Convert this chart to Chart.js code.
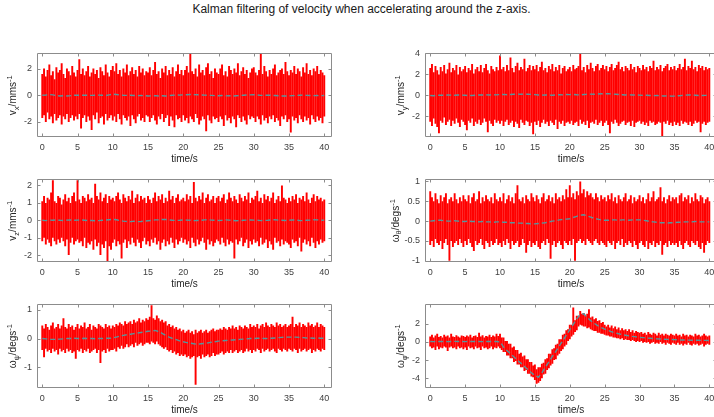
<!DOCTYPE html>
<html>
<head>
<meta charset="utf-8">
<script src="https://cdn.jsdelivr.net/npm/chart.js@4.4.1/dist/chart.umd.min.js"></script>
<style>
  html, body { margin: 0; padding: 0; background: #fff; width: 714px; height: 417px; overflow: hidden; position: relative;
    font-family: "Liberation Sans", Arial, sans-serif; }
  #title { position: absolute; top: 2px; left: 0; width: 723px; text-align: center; font-size: 12px; line-height: 14px; color: #1a1a1a; }
  canvas { position: absolute; }
</style>
</head>
<body>
<div id="title">Kalman filtering of velocity when accelerating around the z-axis.</div>
<canvas id="pVx"></canvas>
<canvas id="pVy"></canvas>
<canvas id="pVz"></canvas>
<canvas id="pWtheta"></canvas>
<canvas id="pWpsi"></canvas>
<canvas id="pWphi"></canvas>
<script>
// ---- measured signals: per 0.25 s bin, highest and lowest sample (0 .. 40 s) ----
const rawStep = 0.25;

const vxHi = [
  1.6,2.0,1.4,1.9,2.3,1.5,1.8,1.2,2.1,1.7,1.9,2.4,1.6,1.3,2.0,1.8,1.5,2.2,1.7,1.4,
  1.9,2.7,1.6,2.0,1.5,1.8,2.2,1.4,1.7,2.0,1.6,1.9,1.3,2.1,1.8,1.5,2.3,1.7,1.4,1.9,
  2.2,1.8,2.4,1.6,1.9,1.4,2.0,1.7,2.3,1.5,1.8,2.1,1.6,1.9,1.4,2.2,1.7,2.0,1.5,1.8,
  1.7,2.1,1.5,1.9,2.5,1.6,1.8,1.3,2.0,1.7,2.2,1.5,1.9,1.6,2.1,1.4,1.8,2.3,1.6,1.9,
  1.5,1.9,2.2,1.7,3.1,1.8,1.6,2.0,1.4,2.3,1.7,1.9,1.5,2.1,2.4,1.6,1.8,1.3,2.0,1.7,
  1.6,2.0,2.3,1.5,1.8,1.4,2.2,1.9,1.6,2.0,1.7,2.4,1.5,1.8,2.1,1.6,1.9,1.3,1.7,2.0,
  2.1,1.7,1.5,1.9,3.1,1.6,2.2,1.8,1.4,1.9,1.6,2.0,2.3,1.5,1.7,1.9,2.0,1.6,2.5,1.8,
  1.5,1.9,1.7,2.2,1.6,2.0,1.8,1.4,2.1,1.7,2.4,1.6,1.9,1.5,2.0,1.8,2.2,1.6,1.9,1.7,
  1.5];
const vxLo = [
  -1.7,-1.5,-2.0,-1.3,-1.8,-1.6,-2.1,-1.4,-1.9,-1.7,-1.5,-2.2,-1.6,-1.8,-1.4,-2.0,-1.7,-1.5,-1.9,-1.6,
  -1.8,-1.4,-2.5,-1.7,-1.5,-2.0,-1.6,-1.9,-2.6,-1.5,-1.8,-1.3,-2.1,-1.7,-1.6,-2.2,-1.4,-1.9,-1.7,-1.5,
  -1.9,-1.6,-2.0,-1.4,-1.8,-2.2,-1.5,-1.7,-1.9,-1.6,-2.3,-1.5,-1.8,-2.1,-1.6,-1.4,-1.9,-1.7,-2.0,-1.5,
  -1.6,-2.0,-1.7,-1.5,-1.9,-2.2,-1.6,-1.8,-1.4,-2.0,-1.7,-1.5,-2.3,-1.6,-1.9,-2.4,-1.5,-1.8,-1.7,-2.0,
  -1.5,-1.9,-1.7,-2.1,-1.6,-1.8,-2.0,-1.4,-1.7,-2.2,-1.9,-1.6,-1.8,-2.7,-1.5,-1.9,-2.1,-1.6,-1.8,-1.7,
  -2.0,-1.6,-1.8,-2.3,-1.5,-1.9,-1.7,-2.1,-1.6,-1.8,-2.4,-1.5,-1.7,-2.0,-1.6,-1.9,-2.2,-1.5,-1.8,-1.6,
  -1.7,-2.0,-1.6,-1.8,-2.2,-1.5,-1.9,-1.7,-2.1,-1.6,-1.8,-1.5,-2.0,-1.7,-1.9,-2.3,-1.6,-1.8,-1.5,-2.0,
  -1.8,-2.8,-1.6,-1.9,-1.7,-2.1,-1.5,-1.8,-2.0,-1.6,-1.9,-1.7,-2.2,-1.5,-1.8,-2.0,-1.6,-1.9,-1.7,-2.1,
  -1.6];

const vyHi = [
  2.6,3.0,2.2,2.8,2.4,2.0,2.7,2.3,2.9,2.1,2.5,3.1,2.2,2.6,2.4,2.9,2.0,2.7,2.3,2.5,
  2.8,2.2,2.6,2.4,3.0,2.1,2.5,2.7,2.3,2.9,2.2,2.6,3.0,2.4,2.1,2.8,2.5,2.3,2.7,2.4,
  3.8,2.5,2.7,2.3,2.9,2.4,3.6,2.6,2.2,2.8,3.1,2.4,2.7,2.5,3.5,2.3,2.6,2.9,2.4,2.8,
  2.5,2.9,2.3,2.7,3.2,2.4,2.6,2.2,2.8,2.5,3.0,2.3,2.7,2.4,2.9,2.1,2.6,2.8,2.3,2.5,
  2.7,2.3,2.9,2.5,2.6,2.8,4.0,2.4,2.7,2.2,2.9,2.5,3.1,2.6,2.3,2.8,3.0,2.4,2.6,2.9,
  2.5,2.8,2.3,2.7,3.0,2.4,2.6,2.9,3.2,2.5,2.7,2.3,2.8,2.6,2.4,3.0,2.5,2.7,2.2,2.8,
  2.6,2.4,2.9,2.5,2.7,2.3,2.8,2.6,3.3,2.4,2.7,2.5,2.9,2.3,2.6,2.8,3.0,2.4,2.7,2.5,
  2.8,2.4,2.6,3.0,2.5,2.7,3.5,2.4,2.8,2.6,3.3,2.5,2.7,2.3,2.9,2.6,2.8,2.4,2.7,2.5,
  2.6];
const vyLo = [
  -2.5,-2.9,-2.2,-2.7,-3.0,-3.6,-2.4,-2.6,-2.1,-2.8,-2.5,-2.3,-2.9,-2.4,-2.7,-2.2,-2.6,-3.0,-2.3,-2.5,
  -2.8,-3.3,-2.4,-2.6,-2.2,-2.9,-2.5,-2.7,-2.3,-2.8,-2.6,-2.2,-2.5,-3.5,-2.4,-2.7,-2.9,-2.3,-2.6,-2.4,
  -2.7,-2.4,-2.9,-2.5,-2.3,-2.8,-2.6,-2.4,-3.0,-2.5,-2.7,-3.1,-2.3,-2.6,-2.8,-2.4,-2.5,-2.9,-2.6,-3.7,
  -2.5,-2.8,-2.4,-3.0,-2.6,-2.3,-2.7,-2.5,-2.9,-2.4,-2.6,-2.8,-2.3,-3.2,-2.5,-2.7,-2.4,-2.9,-2.6,-2.5,
  -2.7,-2.4,-2.8,-2.6,-2.5,-2.9,-2.3,-2.7,-2.5,-2.8,-2.4,-3.1,-2.6,-2.5,-2.7,-2.3,-2.8,-2.6,-2.4,-2.9,
  -2.6,-2.4,-2.8,-3.6,-2.5,-2.7,-2.3,-2.6,-2.9,-2.7,-2.5,-2.4,-2.8,-2.6,-2.5,-2.9,-2.4,-3.0,-2.6,-2.5,
  -2.4,-2.7,-2.5,-2.8,-2.6,-2.9,-2.4,-2.6,-2.5,-2.8,-2.7,-2.5,-2.6,-3.9,-2.5,-2.7,-2.4,-2.8,-2.6,-2.9,
  -2.5,-2.8,-2.6,-2.9,-2.4,-2.7,-2.5,-2.6,-2.8,-2.5,-2.9,-2.7,-2.4,-2.6,-2.5,-3.5,-2.7,-2.5,-2.8,-2.6,
  -2.5];

const vzHi = [
  1.1,1.4,1.0,1.3,1.2,1.6,2.3,1.1,1.0,1.4,1.3,0.9,1.2,1.5,1.1,1.3,1.0,1.4,1.6,1.1,
  2.3,1.2,1.0,1.4,1.3,1.1,1.5,1.2,1.3,1.0,2.1,1.4,1.2,1.6,1.1,1.3,1.5,1.0,1.4,1.2,
  1.3,1.1,1.4,1.6,1.2,1.0,1.5,1.3,1.1,1.4,1.2,1.7,1.0,1.3,1.5,1.1,1.4,1.2,1.3,1.0,
  1.4,1.2,1.0,1.3,1.6,1.1,1.4,1.2,1.5,1.0,1.3,1.1,1.7,1.2,1.4,1.0,1.3,1.5,1.1,1.2,
  1.3,1.1,1.5,1.2,1.4,1.0,2.2,1.3,1.1,1.4,1.2,1.6,1.0,1.3,1.5,1.1,1.2,1.4,1.0,1.3,
  1.4,1.1,1.3,1.5,1.0,1.2,1.6,1.3,1.1,1.4,1.2,1.0,1.5,1.3,1.1,1.4,1.2,1.6,1.0,1.3,
  1.2,1.4,1.7,1.1,1.3,1.0,1.5,1.2,1.4,1.1,1.3,1.6,1.0,1.2,1.4,1.1,2.0,1.3,1.2,1.0,
  1.3,1.1,1.4,1.2,1.5,1.0,1.3,1.2,1.4,1.1,1.6,1.2,1.0,1.3,1.5,1.1,1.4,1.2,1.3,1.1,
  1.2];
const vzLo = [
  -1.2,-1.0,-1.4,-1.1,-1.3,-1.5,-1.0,-1.2,-1.4,-1.1,-1.3,-1.0,-1.2,-1.5,-1.1,-2.0,-1.3,-1.0,-1.4,-1.2,
  -1.1,-1.3,-1.2,-1.5,-1.0,-1.6,-1.3,-1.4,-1.2,-1.7,-1.1,-1.5,-1.3,-2.0,-1.4,-1.6,-1.2,-2.4,-1.5,-1.7,
  -1.3,-1.1,-1.5,-1.2,-1.4,-2.2,-1.3,-1.1,-1.6,-1.2,-1.4,-1.0,-1.3,-1.5,-1.1,-1.3,-1.6,-1.2,-1.0,-1.4,
  -1.2,-1.5,-1.1,-1.3,-1.0,-1.4,-1.2,-1.7,-1.3,-1.1,-1.5,-1.2,-1.4,-1.0,-1.3,-1.6,-1.1,-1.4,-1.2,-1.0,
  -1.3,-1.1,-1.4,-1.2,-1.6,-1.0,-1.3,-1.5,-1.1,-1.4,-1.2,-1.0,-1.3,-1.7,-1.1,-1.4,-1.2,-1.5,-1.3,-1.1,
  -1.2,-1.4,-1.0,-1.3,-1.5,-1.1,-1.4,-1.2,-1.3,-2.2,-1.1,-1.4,-1.2,-1.0,-1.5,-1.3,-1.1,-1.6,-1.2,-1.4,
  -1.1,-1.3,-1.2,-1.5,-1.0,-1.4,-1.3,-1.1,-1.6,-1.2,-1.4,-1.7,-1.0,-1.3,-1.2,-1.5,-1.1,-1.4,-1.2,-1.3,
  -1.4,-1.6,-1.1,-1.3,-1.2,-1.5,-1.0,-1.8,-1.3,-1.1,-1.4,-1.2,-1.5,-1.0,-1.3,-1.6,-1.2,-1.4,-1.1,-1.3,
  -1.2];

const wThetaHi = [
  0.75,0.6,0.5,0.7,0.55,0.45,0.65,0.5,0.6,0.7,0.45,0.55,0.6,0.5,0.7,0.55,0.45,0.6,0.5,0.65,
  0.55,0.5,0.65,0.45,0.6,0.7,0.5,0.55,0.75,0.45,0.6,0.5,0.65,0.55,0.5,0.6,0.45,0.7,0.55,0.5,
  0.6,0.5,0.7,0.45,0.55,0.65,0.5,0.6,0.45,0.7,0.9,0.55,0.5,0.6,0.45,0.65,0.55,0.5,0.7,0.6,
  0.5,0.65,0.55,0.45,0.6,0.7,0.5,0.55,0.65,0.5,0.6,0.45,0.7,0.55,0.6,0.5,0.65,0.55,0.8,0.6,
  0.9,0.6,0.7,0.55,0.75,0.65,1.0,0.7,0.8,0.6,0.75,0.65,0.7,0.6,0.55,0.7,0.6,0.5,0.65,0.55,
  0.6,0.5,0.65,0.55,0.7,0.5,0.6,0.45,0.65,0.55,0.5,0.6,0.7,0.5,0.55,0.65,0.45,0.6,0.5,0.55,
  0.65,0.5,0.6,0.45,0.55,0.7,0.5,0.6,0.75,0.5,0.55,0.6,0.85,0.5,0.6,0.45,0.55,0.65,0.5,0.6,
  0.55,0.6,0.45,0.65,0.7,0.5,0.6,0.55,0.65,0.45,0.6,0.5,0.7,0.55,0.5,0.65,0.6,0.45,0.55,0.6,
  0.5];
const wThetaLo = [
  -0.6,-0.5,-0.65,-0.45,-0.55,-0.6,-0.5,-0.7,-0.55,-0.45,-0.6,-1.0,-0.5,-0.65,-0.55,-0.5,-0.6,-0.45,-0.55,-0.65,
  -0.5,-0.6,-0.45,-0.55,-0.65,-0.75,-0.5,-0.6,-0.55,-0.45,-0.6,-0.7,-0.5,-0.55,-0.65,-0.5,-0.6,-0.55,-0.45,-0.6,
  -0.55,-0.65,-0.5,-0.6,-0.45,-0.55,-0.7,-0.5,-0.6,-0.55,-0.5,-0.65,-0.6,-0.45,-0.55,-0.8,-0.6,-0.5,-0.65,-0.55,
  -0.6,-0.5,-0.65,-0.7,-0.55,-0.5,-0.6,-0.45,-0.55,-0.95,-0.6,-0.5,-0.65,-0.55,-0.5,-0.6,-0.7,-0.5,-0.55,-0.6,
  -0.5,-0.6,-0.45,-1.0,-0.55,-0.5,-0.45,-0.55,-0.5,-0.6,-0.45,-0.5,-0.55,-0.6,-0.5,-0.45,-0.55,-0.6,-0.5,-0.55,
  -0.6,-0.65,-0.5,-0.55,-0.6,-0.5,-0.7,-0.55,-0.5,-0.6,-0.45,-0.65,-0.55,-0.6,-0.5,-0.55,-0.65,-0.5,-0.6,-0.7,
  -0.55,-0.5,-0.6,-0.65,-0.5,-0.7,-0.55,-0.6,-0.5,-0.65,-0.55,-0.6,-0.5,-0.85,-0.6,-0.55,-0.65,-0.5,-0.6,-0.55,
  -0.6,-0.55,-0.65,-0.5,-0.6,-0.7,-0.55,-0.5,-0.6,-0.65,-0.5,-0.55,-0.6,-0.5,-0.65,-0.7,-0.55,-0.8,-0.6,-0.5,
  -0.55];

const wPsiHi = [
  0.45,0.35,0.5,0.4,0.3,0.45,0.55,0.35,0.4,0.5,0.35,0.45,0.7,0.4,0.35,0.5,0.4,0.45,0.3,0.4,
  0.5,0.35,0.45,0.4,0.55,0.35,0.4,0.5,0.3,0.45,0.4,0.35,0.5,0.45,0.4,0.35,0.5,0.4,0.45,0.35,
  0.45,0.4,0.5,0.45,0.55,0.5,0.45,0.6,0.5,0.55,0.6,0.5,0.65,0.55,0.6,0.7,0.55,0.65,0.6,0.7,
  0.65,0.75,1.15,0.7,0.65,0.8,0.7,0.6,0.65,0.55,0.6,0.45,0.5,0.4,0.45,0.35,0.4,0.3,0.35,0.25,
  0.3,0.2,0.25,0.3,0.2,0.25,0.15,0.3,0.2,0.25,0.3,0.2,0.25,0.3,0.2,0.25,0.3,0.35,0.25,0.3,
  0.3,0.35,0.3,0.4,0.35,0.3,0.4,0.35,0.45,0.35,0.4,0.3,0.45,0.4,0.35,0.45,0.4,0.35,0.5,0.4,
  0.45,0.4,0.5,0.35,0.45,0.5,0.4,0.55,0.45,0.4,0.5,0.45,0.4,0.55,0.45,0.5,0.4,0.45,0.5,0.4,
  0.45,0.5,0.75,0.4,0.5,0.45,0.55,0.4,0.5,0.45,0.4,0.55,0.45,0.5,0.4,0.45,0.55,0.4,0.5,0.45,
  0.4];
const wPsiLo = [
  -0.4,-0.65,-0.35,-0.45,-0.4,-0.5,-0.35,-0.45,-0.4,-0.55,-0.35,-0.45,-0.4,-0.5,-0.35,-0.45,-0.4,-0.5,-0.45,-0.7,
  -0.4,-0.45,-0.35,-0.5,-0.4,-0.45,-0.35,-0.5,-0.45,-0.4,-0.35,-0.5,-0.4,-0.85,-0.45,-0.4,-0.5,-0.35,-0.45,-0.4,
  -0.4,-0.35,-0.45,-0.3,-0.35,-0.25,-0.35,-0.3,-0.2,-0.3,-0.25,-0.2,-0.3,-0.15,-0.25,-0.2,-0.15,-0.25,-0.2,-0.15,
  -0.15,-0.2,-0.1,-0.15,-0.2,-0.1,-0.2,-0.25,-0.3,-0.35,-0.3,-0.4,-0.45,-0.4,-0.5,-0.45,-0.55,-0.5,-0.6,-0.55,
  -0.6,-0.55,-0.65,-0.6,-0.7,-0.65,-0.6,-1.6,-0.65,-0.6,-0.7,-0.55,-0.65,-0.6,-0.55,-0.65,-0.6,-0.5,-0.6,-0.55,
  -0.55,-0.5,-0.45,-0.55,-0.5,-0.45,-0.5,-0.4,-0.5,-0.45,-0.4,-0.5,-0.45,-0.4,-0.5,-0.45,-0.35,-0.45,-0.4,-0.5,
  -0.4,-0.45,-0.35,-0.4,-0.5,-0.35,-0.45,-0.4,-0.35,-0.45,-0.4,-0.35,-0.45,-0.5,-0.35,-0.4,-0.45,-0.35,-0.4,-0.45,
  -0.35,-0.4,-0.45,-0.35,-0.4,-0.5,-0.35,-0.45,-0.4,-0.35,-0.45,-0.4,-0.35,-0.5,-0.4,-0.45,-0.35,-0.4,-0.45,-0.35,
  -0.4];

const wPhiHi = [
  0.6,0.8,0.5,0.7,0.9,0.55,0.65,0.5,0.8,0.6,0.7,0.5,0.9,0.6,0.55,0.75,0.6,0.5,0.7,0.65,
  0.55,0.7,0.6,0.8,0.5,0.65,0.7,0.55,1.0,0.6,0.75,0.5,0.65,0.6,0.8,0.55,0.7,0.6,0.9,0.65,
  0.9,0.5,0.5,0.1,0.1,-0.2,-0.2,-0.6,-0.5,-0.9,-0.9,-1.3,-1.2,-1.6,-1.5,-1.9,-1.9,-2.2,-2.2,-2.6,
  -2.5,-3.0,-2.8,-2.8,-2.4,-2.3,-1.9,-1.8,-1.3,-1.3,-0.8,-0.7,-0.3,-0.2,0.3,0.3,0.8,0.9,1.3,1.4,
  1.9,1.9,3.8,2.4,2.9,2.9,3.4,3.1,3.2,2.9,3.1,3.6,2.7,2.8,2.5,2.6,2.3,2.4,2.1,2.2,
  1.9,1.7,1.9,1.6,1.8,1.5,1.7,1.4,1.6,1.3,1.5,1.3,1.4,1.2,1.4,1.1,1.3,1.0,1.2,1.1,
  1.0,1.1,0.9,1.0,0.8,1.1,0.9,0.8,1.0,0.9,0.7,1.0,0.8,0.9,0.7,0.9,0.8,0.7,0.9,0.8,
  0.7,0.9,0.7,0.8,0.6,0.9,0.7,0.8,0.6,0.8,0.7,0.6,0.9,0.7,0.8,0.6,0.7,0.9,0.7,0.6,
  0.7];
const wPhiLo = [
  -0.5,-0.7,-0.6,-0.9,-0.5,-0.8,-0.6,-0.7,-0.5,-0.6,-1.0,-0.6,-0.5,-0.7,-0.6,-0.8,-0.5,-0.7,-0.6,-0.8,
  -0.6,-0.9,-0.5,-0.7,-0.6,-0.8,-0.5,-0.7,-0.6,-0.9,-0.5,-0.7,-0.6,-0.8,-0.7,-0.5,-0.8,-0.6,-0.7,-0.5,
  -0.7,-0.9,-1.1,-1.1,-1.5,-1.5,-1.8,-1.8,-2.2,-2.1,-2.5,-2.5,-2.8,-2.8,-3.2,-3.1,-3.5,-3.5,-3.8,-3.9,
  -4.2,-4.6,-4.5,-4.3,-4.0,-3.6,-3.5,-3.1,-2.9,-2.6,-2.4,-2.0,-1.9,-1.5,-1.3,-1.0,-0.8,-0.5,-0.3,0.1,
  0.3,0.6,0.8,1.1,1.3,1.7,1.9,1.8,1.7,1.7,1.5,1.6,1.4,1.3,1.2,1.2,1.0,1.0,0.9,0.9,
  0.8,0.7,0.7,0.6,0.6,0.5,0.5,0.4,0.4,0.3,0.4,0.2,0.3,0.2,0.2,0.1,0.2,0.1,0.0,0.1,
  0.0,0.1,-0.1,0.0,-0.1,0.0,-0.2,-0.1,0.0,-0.2,-0.1,-0.2,0.0,-0.2,-0.1,-0.3,-0.1,-0.2,-0.3,-0.1,
  -0.2,-0.3,-0.1,-0.3,-0.2,-0.4,-0.2,-0.3,-0.1,-0.3,-0.4,-0.2,-0.3,-0.2,-0.4,-0.3,-0.2,-0.5,-0.3,-0.2,
  -0.3];

// ---- Kalman estimates, every 0.5 s (0 .. 40 s) ----
const filtStep = 0.5;
const vxFilt = [
  0.00,0.02,0.05,0.03,-0.03,-0.05,-0.04,-0.05,-0.03,0.00,
  0.01,0.00,0.01,0.00,-0.01,0.00,0.01,0.00,-0.02,0.03,
  0.08,0.06,0.02,0.00,-0.01,0.00,-0.02,-0.03,-0.02,-0.03,
  -0.05,-0.04,-0.03,-0.05,-0.04,-0.06,-0.02,0.00,0.02,0.01,
  0.03,0.04,0.06,0.05,0.04,0.02,0.01,0.00,-0.01,-0.03,
  -0.04,-0.02,-0.05,-0.03,-0.06,-0.04,-0.02,0.00,0.02,0.03,
  0.04,0.02,-0.01,0.00,0.01,0.00,-0.02,-0.04,-0.05,-0.06,
  -0.05,-0.03,-0.02,0.00,0.01,-0.01,-0.02,-0.03,-0.02,-0.03,
  -0.02];
const vyFilt = [
  0.00,-0.02,0.01,0.03,0.02,0.04,0.03,0.02,0.05,0.04,
  0.02,-0.01,0.00,0.03,0.05,0.04,0.06,0.05,0.07,0.06,
  0.08,0.10,0.07,0.09,0.12,0.13,0.11,0.14,0.12,0.10,
  0.08,0.05,0.03,0.06,0.04,0.02,0.05,0.07,0.06,0.09,
  0.08,0.10,0.07,0.05,0.09,0.11,0.13,0.12,0.14,0.16,
  0.15,0.17,0.14,0.12,0.09,0.07,0.05,0.06,0.04,0.05,
  0.03,0.01,0.02,0.00,-0.02,-0.01,-0.03,-0.05,-0.04,-0.06,
  -0.05,-0.03,-0.01,0.03,0.05,0.04,0.02,0.00,-0.01,0.01,
  0.00];
const vzFilt = [
  0.00,-0.02,0.01,0.00,0.02,0.00,-0.01,0.01,0.02,0.00,
  0.01,0.02,0.00,-0.02,-0.01,-0.03,-0.02,0.00,0.01,0.03,
  0.05,0.03,-0.02,-0.05,-0.07,-0.08,-0.06,-0.08,-0.07,-0.05,
  -0.03,-0.01,0.02,0.03,0.05,0.04,0.02,0.00,-0.01,0.00,
  0.02,0.01,0.00,-0.02,-0.01,0.00,0.02,0.03,0.01,0.00,
  -0.01,0.00,0.02,0.01,-0.01,-0.03,-0.02,0.00,0.01,0.02,
  0.01,0.00,-0.02,-0.01,0.00,0.02,0.03,0.01,0.00,-0.01,
  0.00,0.02,0.01,-0.01,-0.02,0.00,0.01,0.03,0.02,0.00,
  0.01];
const wThetaFilt = [
  0.00,0.01,0.02,0.02,0.01,0.00,0.00,0.01,0.00,-0.01,
  -0.01,0.00,-0.01,-0.01,-0.02,-0.01,-0.02,-0.02,-0.03,-0.02,
  -0.02,-0.03,-0.03,-0.04,-0.04,-0.05,-0.05,-0.06,-0.06,-0.07,
  -0.07,-0.06,-0.05,-0.04,-0.02,0.00,0.01,0.03,0.04,0.05,
  0.06,0.09,0.12,0.15,0.16,0.13,0.10,0.07,0.05,0.03,
  0.02,0.02,0.03,0.03,0.02,0.03,0.03,0.02,0.03,0.03,
  0.03,0.02,0.01,-0.01,-0.02,-0.03,-0.04,-0.04,-0.05,-0.04,
  -0.04,-0.03,-0.03,-0.02,-0.02,-0.02,-0.01,-0.02,-0.02,-0.02,
  -0.02];
const wPsiFilt = [
  0.00,-0.01,-0.03,-0.03,-0.03,-0.02,-0.01,0.00,0.00,0.01,
  0.00,0.00,0.01,0.00,0.00,-0.01,0.00,0.00,0.01,0.01,
  0.02,0.05,0.08,0.11,0.13,0.15,0.17,0.19,0.21,0.23,
  0.25,0.26,0.28,0.24,0.18,0.11,0.05,0.00,-0.04,-0.08,
  -0.11,-0.14,-0.16,-0.18,-0.20,-0.18,-0.17,-0.15,-0.13,-0.11,
  -0.09,-0.08,-0.07,-0.06,-0.05,-0.04,-0.03,-0.02,-0.01,0.00,
  0.00,0.01,0.01,0.00,0.00,0.01,0.02,0.03,0.04,0.05,
  0.05,0.05,0.05,0.04,0.03,0.02,0.02,0.01,0.02,0.01,
  0.01];
const wPhiFilt = [
  0.05,0.04,0.05,0.06,0.05,0.04,0.05,0.06,0.05,0.05,
  0.04,0.05,0.06,0.05,0.05,0.04,0.05,0.06,0.05,0.05,
  0.00,-0.55,-0.95,-1.30,-1.65,-2.00,-2.35,-2.70,-3.05,-3.40,
  -3.70,-3.90,-3.40,-2.80,-2.20,-1.60,-1.05,-0.45,0.15,0.75,
  1.35,1.95,2.55,3.05,3.10,2.70,2.35,2.05,1.80,1.60,
  1.42,1.27,1.12,1.00,0.90,0.81,0.74,0.67,0.61,0.56,
  0.51,0.47,0.43,0.40,0.37,0.34,0.32,0.30,0.28,0.27,
  0.25,0.24,0.22,0.21,0.20,0.19,0.18,0.18,0.17,0.17,
  0.16];

// ---- axes ----
const timeRange = [-0.75, 41.1];
const timeTicks = [0, 5, 10, 15, 20, 25, 30, 35, 40];
const vxTicks = [-2, 0, 2];
const vyTicks = [-2, 0, 2, 4];
const vzTicks = [-2, -1, 0, 1, 2];
const wThetaTicks = [-1, -0.5, 0, 0.5, 1];
const wPsiTicks = [-1, 0, 1];
const wPhiTicks = [-4, -2, 0, 2];

const FONT = '"Liberation Sans", Arial, sans-serif';
const RAW_COLOR = 'rgb(255,0,0)';
const EST_COLOR = 'rgb(86,150,158)';
const FRAME_COLOR = '#8c8c8c';

// frame with inward tick marks on all four sides, plus a y label with sub/superscript
const axesFrame = {
  id: 'axesFrame',
  afterDraw(chart, args, opts) {
    const { ctx, chartArea: a, scales: { x, y } } = chart;
    ctx.save();
    ctx.strokeStyle = FRAME_COLOR;
    ctx.lineWidth = 1;
    const L = Math.round(a.left) + 0.5, R = Math.round(a.right) - 0.5;
    const T = Math.round(a.top) + 0.5, B = Math.round(a.bottom) - 0.5;
    ctx.beginPath();
    ctx.rect(L, T, R - L, B - T);
    x.ticks.forEach(t => {
      const px = Math.round(x.getPixelForValue(t.value)) + 0.5;
      ctx.moveTo(px, B); ctx.lineTo(px, B - 3);
      ctx.moveTo(px, T); ctx.lineTo(px, T + 3);
    });
    y.ticks.forEach(t => {
      const py = Math.round(y.getPixelForValue(t.value)) + 0.5;
      ctx.moveTo(L, py); ctx.lineTo(L + 3, py);
      ctx.moveTo(R, py); ctx.lineTo(R - 3, py);
    });
    ctx.stroke();

    // rotated y-axis label
    ctx.translate(a.left - opts.gap, (a.top + a.bottom) / 2);
    ctx.rotate(-Math.PI / 2);
    ctx.fillStyle = '#262626';
    ctx.textBaseline = 'alphabetic';
    const big = '10px ' + FONT, small = '7.5px ' + FONT;
    let total = 0;
    const parts = opts.label.map(p => {
      ctx.font = p.s ? small : big;
      const w = ctx.measureText(p.t).width;
      total += w;
      return { ...p, w };
    });
    let cx = -total / 2;
    parts.forEach(p => {
      ctx.font = p.s ? small : big;
      const dy = p.s === 'sub' ? 2.5 : p.s === 'sup' ? -4 : 0;
      ctx.fillText(p.t, cx, 3.5 + dy);
      cx += p.w;
    });
    ctx.restore();
  }
};

const Y_W = 40, PAD_T = 8, PAD_R = 16, X_H = 30;

function panel(id, box, yMin, yMax, yTicks, hi, lo, est, label, gap) {
  const cv = document.getElementById(id);
  cv.width = box.w + Y_W + PAD_R;
  cv.height = box.h + PAD_T + X_H;
  cv.style.left = (box.x - Y_W) + 'px';
  cv.style.top = (box.y - PAD_T) + 'px';
  const tickFont = { family: FONT, size: 9 };
  new Chart(cv, {
    type: 'bar',
    data: {
      datasets: [
        { type: 'line', data: est.map((v, i) => ({ x: i * filtStep, y: v })), borderColor: EST_COLOR, borderWidth: 1.4,
          borderDash: [5, 3], pointRadius: 0, order: 0, clip: 0 },
        { type: 'bar', data: hi.map((v, i) => ({ x: i * rawStep, y: [lo[i], v] })), backgroundColor: RAW_COLOR,
          borderWidth: 0, barPercentage: 1.1, categoryPercentage: 1, order: 1 }
      ]
    },
    options: {
      responsive: false, animation: false, events: [],
      layout: { padding: { left: 0, top: PAD_T, right: PAD_R, bottom: 0 } },
      elements: { line: { tension: 0 } },
      plugins: { legend: { display: false }, tooltip: { enabled: false }, axesFrame: { label, gap } },
      scales: {
        x: {
          type: 'linear', offset: false, min: timeRange[0], max: timeRange[1],
          grid: { display: false, drawTicks: false, offset: false }, border: { display: false },
          afterBuildTicks: s => { s.ticks = timeTicks.map(v => ({ value: v })); },
          afterFit: s => { s.height = X_H; },
          ticks: { padding: 5, autoSkip: false, maxRotation: 0, color: '#404040', font: tickFont, callback: v => String(v) },
          title: { display: true, text: 'time/s', color: '#262626', font: { family: FONT, size: 10 }, padding: { top: 0, bottom: 1.5 } }
        },
        y: {
          type: 'linear', min: yMin, max: yMax, beginAtZero: false,
          grid: { display: false, drawTicks: false }, border: { display: false },
          afterBuildTicks: s => { s.ticks = yTicks.map(v => ({ value: v })); },
          afterFit: s => { s.width = Y_W; },
          ticks: { padding: 5, autoSkip: false, color: '#404040', font: tickFont, callback: v => String(v) }
        }
      }
    },
    plugins: [axesFrame]
  });
}

const lblV = sub => [{ t: 'v' }, { t: sub, s: 'sub' }, { t: '/mms' }, { t: '-1', s: 'sup' }];
const lblW = sub => [{ t: 'ω' }, { t: sub, s: 'sub' }, { t: '/degs' }, { t: '-1', s: 'sup' }];

panel('pVx',     { x: 37,  y: 51,  w: 295, h: 86 }, -3.13, 3.14, vxTicks, vxHi, vxLo, vxFilt, lblV('x'), 24.5);
panel('pVy',     { x: 425, y: 51,  w: 292, h: 86 }, -3.95, 4.0,  vyTicks, vyHi, vyLo, vyFilt, lblV('y'), 24.5);
panel('pVz',     { x: 37,  y: 177, w: 295, h: 85 }, -2.4,  2.35, vzTicks, vzHi, vzLo, vzFilt, lblV('z'), 24.5);
panel('pWtheta', { x: 425, y: 177, w: 292, h: 85 }, -1.03, 1.05, wThetaTicks, wThetaHi, wThetaLo, wThetaFilt, lblW('θ'), 30);
panel('pWpsi',   { x: 37,  y: 302, w: 295, h: 86 }, -1.71, 1.18, wPsiTicks, wPsiHi, wPsiLo, wPsiFilt, lblW('ψ'), 24.5);
panel('pWphi',   { x: 425, y: 302, w: 292, h: 86 }, -5.08, 4.14, wPhiTicks, wPhiHi, wPhiLo, wPhiFilt, lblW('φ'), 24.5);
</script>
</body>
</html>
